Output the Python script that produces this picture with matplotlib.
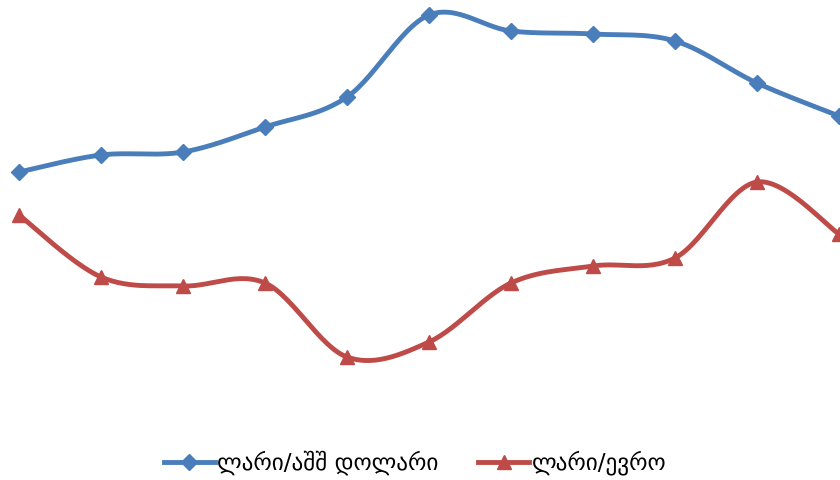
import numpy as np
import matplotlib
matplotlib.use("Agg")
import matplotlib.pyplot as plt
from matplotlib.lines import Line2D

categories = list(range(11))
usd = [2.28, 2.45, 2.48, 2.73, 3.03, 3.85, 3.69, 3.66, 3.59, 3.17, 2.84]
eur = [1.85, 1.23, 1.14, 1.17, 0.43, 0.58, 1.17, 1.34, 1.42, 2.18, 1.66]
labels = ["ლარი/აშშ დოლარი", "ლარი/ევრო"]
colors = ["#4A7EBB", "#BE4B48"]
markers = ["D", "^"]


def smooth(xs, ys, n=30):
    x = np.asarray(xs, float)
    y = np.asarray(ys, float)
    px = np.concatenate([[x[0]], x, [x[-1]]])
    py = np.concatenate([[y[0]], y, [y[-1]]])
    ox, oy = [], []
    for i in range(1, len(px) - 2):
        p0 = np.array([px[i - 1], py[i - 1]])
        p1 = np.array([px[i], py[i]])
        p2 = np.array([px[i + 1], py[i + 1]])
        p3 = np.array([px[i + 2], py[i + 2]])
        c1 = p1 + (p2 - p0) / 6
        c2 = p2 - (p3 - p1) / 6
        t = np.linspace(0, 1, n)[:, None]
        b = (1 - t) ** 3 * p1 + 3 * (1 - t) ** 2 * t * c1 + 3 * (1 - t) * t ** 2 * c2 + t ** 3 * p2
        ox.extend(b[:, 0])
        oy.extend(b[:, 1])
    return ox, oy


fig = plt.figure(figsize=(8.4, 4.8), dpi=100)
ax = fig.add_axes([0, 80 / 480, 1, 400 / 480])
ax.set_xlim(-19 / 82, 821 / 82)
ax.set_ylim(0, 4)
ax.axis("off")

handles = []
for vals, lab, c, m, ms in zip([usd, eur], labels, colors, markers, [8, 10]):
    sx, sy = smooth(categories, vals)
    ax.plot(sx, sy, color=c, lw=3.5, solid_capstyle="round", zorder=2)
    ax.plot(categories, vals, ls="none", marker=m, ms=ms, color=c, zorder=3, clip_on=True)
    handles.append(Line2D([], [], color=c, lw=3.5, marker=m, ms=ms))

fig.legend(handles, labels, loc="center", bbox_to_anchor=(415 / 840, 1 - 463 / 480), ncol=2,
           frameon=False, handlelength=2.2, handletextpad=0.1,
           columnspacing=1.7, prop={"family": ["DejaVu Sans"], "size": 16.7})

fig.savefig("out.png", dpi=100)
